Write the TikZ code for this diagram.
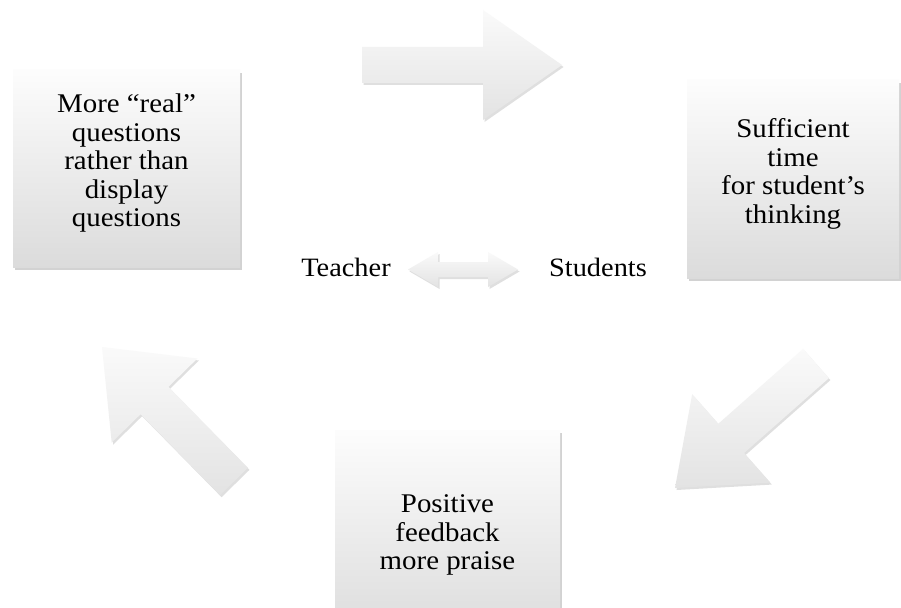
\documentclass[tikz,border=0pt]{standalone}
\usepackage{fontspec}
\setmainfont{Liberation Serif}[FakeStretch=1.07]
\usetikzlibrary{calc,shadows,positioning}
\tikzset{
  card/.style={rectangle,draw=none,top color=gray!2,bottom color=gray!28,
    drop shadow={shadow xshift=2pt,shadow yshift=-3pt,opacity=0.35},
    align=center,inner sep=0pt,font=\fontsize{27}{28.5}\selectfont},
  actor/.style={inner sep=0pt,font=\fontsize{26.5}{28.5}\selectfont},
  blockarrow/.style={draw=none,top color=gray!4,bottom color=gray!22,
    drop shadow={shadow xshift=1.5pt,shadow yshift=-2pt,opacity=0.25}},
}
% block arrow: #1 tail, #2 tip, #3 half shaft, #4 half head, #5 head length
\newcommand{\blockarrow}[5]{%
  \coordinate (#1-base) at ($(#2)!#5!(#1)$);
  \path[blockarrow] ($(#1)!#3!90:(#2)$) -- ($(#1-base)!#3!90:(#2)$)
    -- ($(#1-base)!#4!90:(#2)$) -- (#2) -- ($(#1-base)!#4!-90:(#2)$)
    -- ($(#1-base)!#3!-90:(#2)$) -- ($(#1)!#3!-90:(#2)$) -- cycle;
}
% double block arrow: #1 left tip, #2 right tip, #3 half shaft, #4 half head, #5 head length
\newcommand{\twowayarrow}[5]{%
  \coordinate (#1-base) at ($(#1)!#5!(#2)$);
  \coordinate (#2-base) at ($(#2)!#5!(#1)$);
  \path[blockarrow] (#1) -- ($(#1-base)!#4!-90:(#2)$) -- ($(#1-base)!#3!-90:(#2)$)
    -- ($(#2-base)!#3!90:(#1)$) -- ($(#2-base)!#4!90:(#1)$) -- (#2)
    -- ($(#2-base)!#4!-90:(#1)$) -- ($(#2-base)!#3!-90:(#1)$)
    -- ($(#1-base)!#3!90:(#2)$) -- ($(#1-base)!#4!90:(#2)$) -- cycle;
}

\begin{document}
\begin{tikzpicture}[x=1pt,y=-1pt]
  \clip (0,0) rectangle (901,607);
  \fill[white] (0,0) rectangle (901,607);

  % the three steps
  \node[card,minimum width=227pt,minimum height=197pt] (real) at (126.5,168.5)
    {More ``real''\\questions\\rather than\\display\\questions\\[-12pt]};
  \node[card,minimum width=212pt,minimum height=198pt] (time) at (793,179)
    {Sufficient\\time\\for student’s\\thinking\\[-12pt]};
  \node[card,minimum width=225pt,minimum height=210pt] (praise) at (447.5,535)
    {Positive\\feedback\\more praise};

  % centre
  \node[actor] (teacher) at (346,267) {Teacher};
  \node[actor] (students) at (598,267) {Students};
  \coordinate (ts-a) at (408,269.5);
  \coordinate (ts-b) at (518,269.5);
  \twowayarrow{ts-a}{ts-b}{7.5pt}{17.5pt}{30pt}

  % cycle arrows
  \coordinate (rt-tail) at (362,65);
  \coordinate (rt-tip) at (562,65);
  \blockarrow{rt-tail}{rt-tip}{18pt}{55pt}{79pt}
  \coordinate (tp-tail) at (816,363.5);
  \coordinate (tp-tip) at (675,488);
  \blockarrow{tp-tail}{tp-tip}{19.5pt}{59pt}{75pt}
  \coordinate (pr-tail) at (234,481.5);
  \coordinate (pr-tip) at (102,347);
  \blockarrow{pr-tail}{pr-tip}{19.5pt}{60pt}{75pt}
\end{tikzpicture}
\end{document}
